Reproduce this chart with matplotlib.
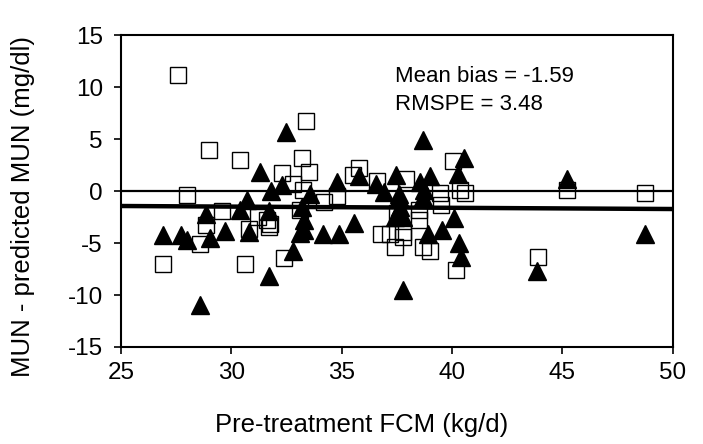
import matplotlib
matplotlib.use("Agg")
import matplotlib.pyplot as plt

# open squares
sq_x = [27.6, 29.0, 30.4, 28.0, 29.6, 28.85, 28.6, 26.9, 30.6, 30.8,
        31.2, 31.6, 31.75, 31.7, 32.3, 32.4, 33.2, 33.4, 33.5, 32.8,
        33.25, 33.1, 34.2, 34.8, 35.8, 35.5, 36.6, 37.9, 37.5, 36.8,
        37.2, 37.8, 37.8, 37.4, 38.5, 38.7, 39.0, 39.45, 39.5, 40.05,
        40.35, 40.6, 40.2, 43.9, 45.2, 48.75, 38.5]
sq_y = [11.2, 3.9, 3.0, -0.4, -1.9, -3.3, -5.1, -7.0, -7.0, -3.7,
        -2.5, -2.8, -3.2, -3.5, 1.7, -6.4, 3.2, 6.7, 1.8, 0.7,
        0.1, -1.8, -1.1, -0.5, 2.2, 1.5, 1.0, 1.2, -2.1, -4.1,
        -4.1, -4.4, -3.9, -5.4, -2.8, -5.4, -5.8, -0.2, -1.3, 2.9,
        0.1, -0.2, -7.6, -6.3, 0.1, -0.2, -1.8]

# filled triangles
tri_x = [26.9, 27.7, 28.0, 28.85, 29.05, 29.7, 28.6, 30.7, 30.4, 30.8,
         31.3, 31.8, 32.3, 32.5, 31.7, 31.7, 32.8, 33.1, 33.3, 33.55,
         33.2, 33.3, 34.8, 34.15, 34.9, 35.55, 35.8, 36.55, 36.9, 37.45,
         37.6, 37.65, 37.4, 37.8, 37.8, 38.7, 38.55, 39.0, 38.75, 38.7,
         38.9, 39.55, 40.1, 40.25, 40.55, 40.3, 40.4, 43.85, 45.2, 48.75,
         37.6]
tri_y = [-4.2, -4.2, -4.7, -2.2, -4.5, -3.8, -11.0, -0.9, -1.8, -3.9,
         1.8, 0.0, 0.6, 5.7, -1.9, -8.2, -5.8, -4.0, -3.75, -0.3,
         -1.5, -2.8, 0.9, -4.1, -4.1, -3.1, 1.4, 0.7, -0.1, 1.5,
         -0.3, -1.5, -2.5, -2.5, -9.5, 4.9, 0.9, 1.4, 0.1, -0.55,
         -4.1, -3.75, -2.6, 1.6, 3.2, -5.0, -6.3, -7.7, 1.2, -4.1,
         -0.55]

# mean bias line ends
bias_x = [25, 50]
bias_y = [-1.44, -1.73]

plt.rcParams['font.family'] = ['Liberation Sans', 'DejaVu Sans']
plt.rcParams['axes.unicode_minus'] = False

fig = plt.figure(figsize=(7.03, 4.44), dpi=100)
ax = fig.add_axes([0.172, 0.2185, 0.785, 0.7025])

ax.axhline(0, color='black', lw=1.6, zorder=1)
ax.plot(bias_x, bias_y, color='black', lw=3.2, zorder=1)

ax.plot(sq_x, sq_y, linestyle='none', marker='s', markersize=11.5,
        markerfacecolor='none', markeredgecolor='black', markeredgewidth=1.0, zorder=2)
ax.plot(tri_x, tri_y, linestyle='none', marker='^', markersize=13.5,
        color='black', zorder=3)

ax.text(37.4, 11.0, 'Mean bias = -1.59', fontsize=16, va='center')
ax.text(37.4, 8.3, 'RMSPE = 3.48', fontsize=16, va='center')

ax.set_xlim(25, 50)
ax.set_ylim(-15, 15)
ax.set_xticks([25, 30, 35, 40, 45, 50])
ax.set_yticks([-15, -10, -5, 0, 5, 10, 15])
ax.tick_params(labelsize=17.5, direction='out', length=5, width=1.2)
ax.tick_params(axis='y', pad=8)
ax.tick_params(axis='x', pad=6)
for s in ax.spines.values():
    s.set_linewidth(1.5)

ax.set_xlabel('Pre-treatment FCM (kg/d)', fontsize=18.5)
ax.xaxis.set_label_coords(0.437, -0.25, transform=ax.transAxes)
ax.xaxis.label.set_va('center')
ax.set_ylabel('MUN - predicted MUN (mg/dl)', fontsize=18.5)
ax.yaxis.set_label_coords(-0.177, 0.45, transform=ax.transAxes)
ax.yaxis.label.set_va('center')

fig.savefig('out.png', dpi=100)
